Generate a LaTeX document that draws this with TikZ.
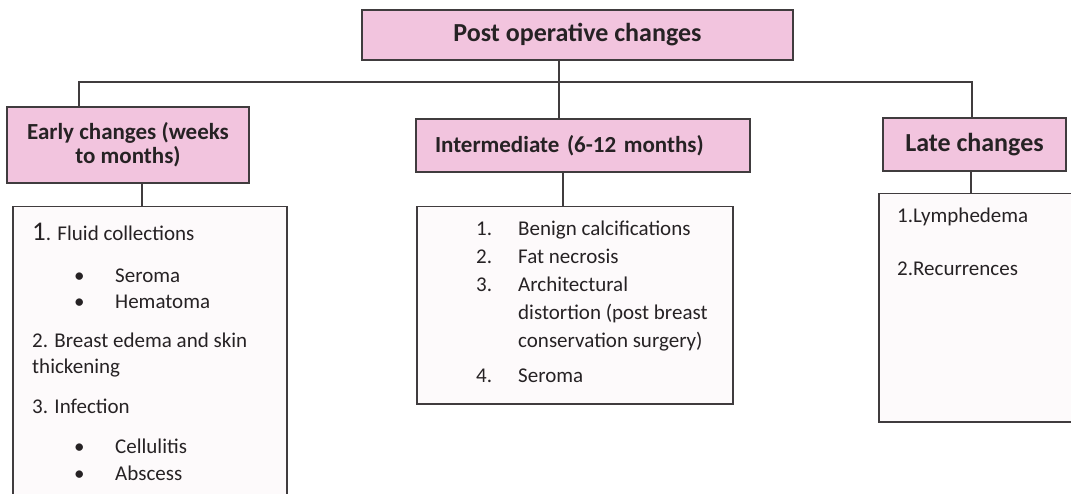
\documentclass[tikz,border=0pt]{standalone}
\usepackage{fontspec}
\setmainfont{Carlito}

\definecolor{headpink}{RGB}{242,196,222}
\definecolor{boxline}{RGB}{64,60,62}
\definecolor{listfill}{RGB}{253,250,251}
\definecolor{inktext}{RGB}{38,34,36}

\tikzset{
  head/.style={draw=boxline, line width=1.5pt, fill=headpink, text=inktext, inner sep=0pt},
  listbox/.style={draw=boxline, line width=1.5pt, fill=listfill, anchor=north west, inner sep=0pt},
  item/.style={anchor=north west, inner sep=0pt, align=left, text=inktext, font=\fontsize{21}{26}\selectfont},
  link/.style={draw=boxline, line width=1.4pt}
}

\begin{document}
\begin{tikzpicture}[x=1pt, y=-1pt]
\path[fill=white, use as bounding box] (0,0) rectangle (1071,494);

% heading boxes
\node[head, minimum width=431pt, minimum height=50pt, font=\bfseries\fontsize{26}{28}\selectfont] (post) at (577.5,35) {Post operative changes};
\node[head, minimum width=242pt, minimum height=76pt, align=center, font=\bfseries\fontsize{23}{24}\selectfont] (early) at (128,145) {Early changes (weeks\\to months)};
\node[head, text width=296pt, inner xsep=19pt, minimum height=53pt, align=left, font=\bfseries\fontsize{23}{25}\selectfont] (intm) at (583,145.5) {Intermediate (6-12 months)};
\node[head, minimum width=183pt, minimum height=53pt, font=\bfseries\fontsize{26}{27}\selectfont] (late) at (974.5,144.5) {Late changes};

% list boxes
\node[listbox, minimum width=274pt, minimum height=300pt] (earlylist) at (12,206) {};
\node[listbox, minimum width=316pt, minimum height=197pt] (intmlist) at (416,206) {};
\node[listbox, minimum width=200pt, minimum height=228pt] (latelist) at (878,193) {};

% list texts
\node[item] (earlytxt) at (32,220) {\rule{0pt}{20pt}{\fontsize{27}{27}\selectfont 1}. Fluid collections\\[16pt]
  \hspace*{42pt}\makebox[41pt][l]{•}Seroma\\
  \hspace*{42pt}\makebox[41pt][l]{•}Hematoma\\[13pt]
  2. Breast edema and skin\\
  thickening\\[14pt]
  3. Infection\\[14pt]
  \hspace*{42pt}\makebox[41pt][l]{•}Cellulitis\\[1pt]
  \hspace*{42pt}\makebox[41pt][l]{•}Abscess};
\node[item, font=\fontsize{21}{28}\selectfont] (intmtxt) at (476,215) {\rule{0pt}{20pt}\makebox[42pt][l]{1.}Benign calcifications\\
  \makebox[42pt][l]{2.}Fat necrosis\\
  \makebox[42pt][l]{3.}Architectural\\
  \hspace*{42pt}distortion (post breast\\
  \hspace*{42pt}conservation surgery)\\[7pt]
  \makebox[42pt][l]{4.}Seroma};
\node[item] (latetxt) at (897,202) {\rule{0pt}{20pt}1.Lymphedema\\[27pt]2.Recurrences};

% connectors
\coordinate (hub) at (559,82);
\coordinate (barL) at (79,82);
\coordinate (barR) at (972,82);
\draw[link] (post.south -| hub) -- (intm.north -| hub);
\draw[link] (early.north -| barL) -- (barL) -- (barR) -- (late.north -| barR);
\draw[link] ([xshift=14pt]early.south) -- ([xshift=14pt]early.south |- earlylist.north);
\draw[link] ([xshift=-20pt]intm.south) -- ([xshift=-20pt]intm.south |- intmlist.north);
\draw[link] ([xshift=-3.5pt]late.south) -- ([xshift=-3.5pt]late.south |- latelist.north);
\end{tikzpicture}
\end{document}
